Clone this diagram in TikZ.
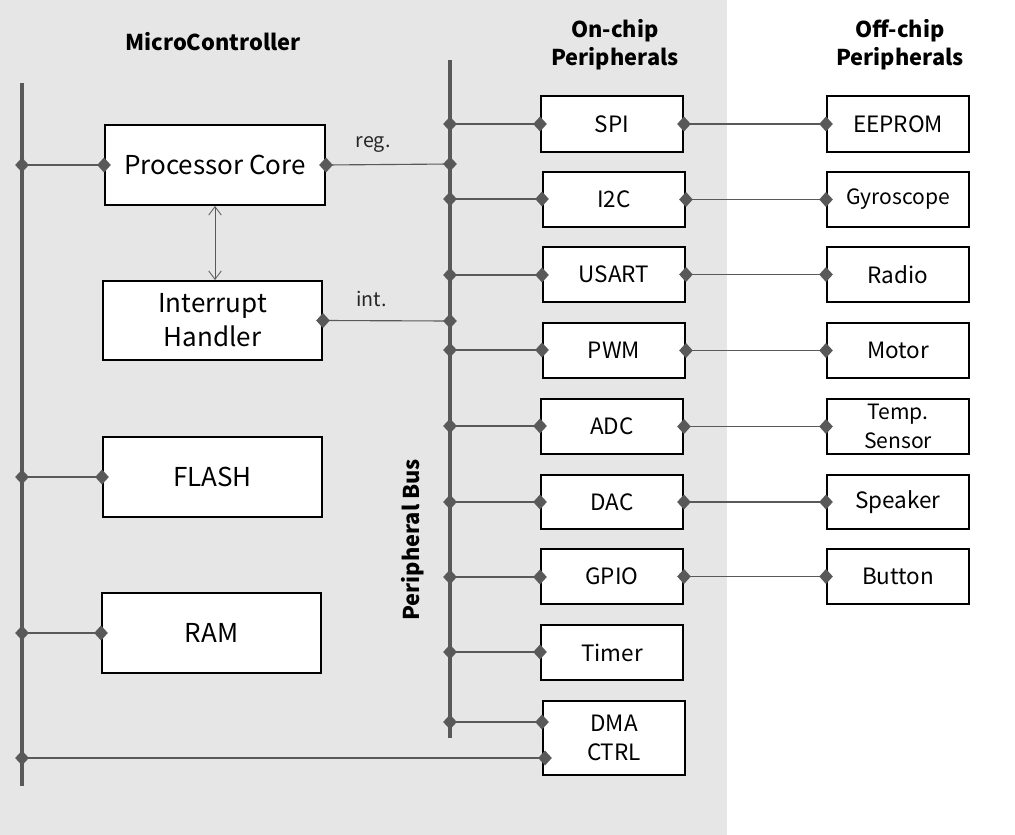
\documentclass[tikz,border=0pt]{standalone}
\usepackage{fontspec}
\setmainfont{Noto Sans CJK SC}
\usetikzlibrary{shapes.geometric,arrows.meta}
\definecolor{bg}{HTML}{E6E6E6}
\definecolor{ln}{HTML}{595959}
\tikzset{
  box/.style={draw=black,line width=1.4pt,fill=white,inner sep=0pt,align=center,font=\fontsize{16}{21}\selectfont},
  bigbox/.style={box,font=\fontsize{18.5}{24}\selectfont},
  dmd/.style={diamond,fill=ln,inner sep=0pt,minimum width=10pt,minimum height=11pt},
  conn/.style={draw=ln,line width=0.8pt},
  bus/.style={draw=ln,line width=3pt},
  head/.style={font=\bfseries\fontsize{15.5}{20}\selectfont,align=center},
  lbl/.style={font=\fontsize{14}{16}\selectfont,text=black!85}
}
\newcommand{\bx}[7][box]{\node[#1,minimum width={(#5-#3)*0.025cm},minimum height={(#6-#4)*0.025cm}] (#2) at ({(#3+#5)/2},{(#4+#6)/2}) {#7};}
\newcommand{\cn}[2]{\draw[conn] (#1) -- (#2) node[pos=0,dmd]{} node[pos=1,dmd]{};}
\begin{document}
\begin{tikzpicture}[x=0.025cm,y=-0.025cm]
\useasboundingbox (0,0) rectangle (1015,835);
\fill[bg] (0,0) rectangle (727,835);
% headings
\node[head] (hmc) at (213,42) {MicroController};
\node[head] (hon) at (615,45) {On-chip\\Peripherals};
\node[head] (hoff) at (900,45) {Off-chip\\Peripherals};
\node[head,rotate=90] (hpb) at (413,540) {Peripheral Bus};
% buses
\coordinate (lt) at (22,83); \coordinate (lb) at (22,786);
\coordinate (pt) at (450,60); \coordinate (pb) at (450,738);
\draw[bus,line width=2.8pt] (lt) -- (lb);
\draw[bus,line width=3.4pt] (pt) -- (pb);
% left boxes
\bx[bigbox]{pc}{105}{125}{325}{205}{Processor Core}
\bx[bigbox]{ih}{103}{281}{322}{360}{Interrupt\\Handler}
\bx[bigbox]{fl}{103}{437}{322}{517}{FLASH}
\bx[bigbox]{ram}{102}{593}{321}{673}{RAM}
% on-chip
\bx{spi}{541}{96}{683}{152}{SPI}
\bx{i2c}{543}{172}{685}{227}{I2C}
\bx{usart}{543}{247}{685}{302}{USART}
\bx{pwm}{543}{323}{685}{378}{PWM}
\bx{adc}{541}{399}{683}{454}{ADC}
\bx{dac}{541}{475}{683}{529}{DAC}
\bx{gpio}{541}{549}{683}{604}{GPIO}
\bx{timer}{541}{625}{683}{680}{Timer}
\bx{dma}{543}{701}{685}{775}{DMA\\CTRL}
% off-chip
\bx{eep}{827}{96}{969}{152}{EEPROM}
\bx[box,font=\fontsize{15}{18}\selectfont]{gyro}{827}{172}{969}{227}{Gyroscope}
\bx{radio}{827}{247}{969}{302}{Radio}
\bx{motor}{827}{323}{969}{378}{Motor}
\bx[box,font=\fontsize{15}{21}\selectfont]{temp}{827}{399}{969}{454}{Temp.\\Sensor}
\bx{spk}{827}{475}{969}{529}{Speaker}
\bx{btn}{827}{549}{969}{604}{Button}
% left bus taps
\coordinate (l1) at (22,165); \coordinate (l2) at (22,477);
\coordinate (l3) at (22,633); \coordinate (l4) at (22,758);
\coordinate (d4) at (545,758);
\cn{l1}{pc.west}
\cn{l2}{fl.west}
\cn{l3}{ram.west}
\cn{l4}{d4}
% peripheral bus taps
\coordinate (preg) at (450,164);
\coordinate (pint) at (450,321);
\draw[conn] (pc.east) -- (preg) node[pos=0,dmd]{} node[pos=1,dmd]{} node[lbl,pos=0.38,above=5pt] (lreg) {reg.};
\draw[conn] (ih.east) -- (pint) node[pos=0,dmd]{} node[pos=1,dmd]{} node[lbl,pos=0.38,above=6pt] (lint) {int.};
\foreach \n/\y in {spi/124,i2c/199,usart/275,pwm/350,adc/426,dac/502,gpio/577,timer/652,dma/722}{
  \coordinate (b\n) at (450,\y);
  \cn{b\n}{\n.west|-b\n}
}
% off-chip links
\cn{spi.east}{eep.west}
\cn{i2c.east}{gyro.west}
\cn{usart.east}{radio.west}
\cn{pwm.east}{motor.west}
\cn{adc.east}{temp.west}
\cn{dac.east}{spk.west}
\cn{gpio.east}{btn.west}
% core <-> interrupt
\draw[draw=ln,line width=0.6pt,{Straight Barb[length=6pt,width=9pt]}-{Straight Barb[length=6pt,width=9pt]}] (pc.south -| 215,0) -- (ih.north -| 215,0);
\end{tikzpicture}
\end{document}
